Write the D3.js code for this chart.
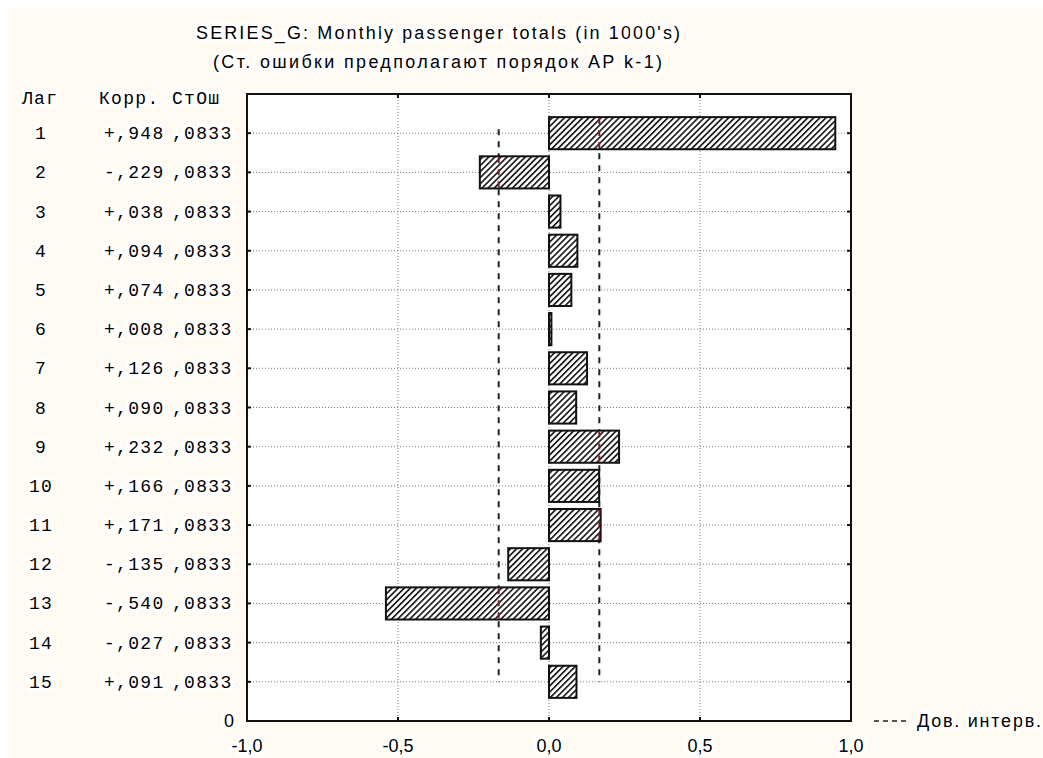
<!DOCTYPE html>
<html><head><meta charset="utf-8">
<script src="https://cdn.jsdelivr.net/npm/d3@7"></script>
<style>
html,body{margin:0;padding:0;background:#fff;}
svg{display:block;}
.halo{paint-order:stroke;stroke:#fff;stroke-width:7px;stroke-linejoin:round;}
</style></head>
<body>
<svg id="chart" width="1043" height="758"></svg>
<script>
// ---- data ----
const lags = [1,2,3,4,5,6,7,8,9,10,11,12,13,14,15];
const corr = [0.948,-0.229,0.038,0.094,0.074,0.008,0.126,0.090,0.232,0.166,0.171,-0.135,-0.540,-0.027,0.091];
const stErr = [0.0833,0.0833,0.0833,0.0833,0.0833,0.0833,0.0833,0.0833,0.0833,0.0833,0.0833,0.0833,0.0833,0.0833,0.0833];
const xTicks = [-1,-0.5,0,0.5,1];
const xGrid = [-0.5,0,0.5];
const title = "SERIES_G: Monthly passenger totals (in 1000's)";
const subtitle = "(Ст. ошибки предполагают порядок АР k-1)";
const headers = ["Лаг","Корр.","СтОш"];
const legendLabel = "Дов. интерв.";
const bottomLabel = "0";

const svg = d3.select("#chart");
const W = 1043, H = 758;
const plot = {left:247, right:851, top:94, bottom:721};

svg.append("rect").attr("x",0).attr("y",0).attr("width",W).attr("height",H).attr("fill","#fff");
svg.append("rect").attr("x",8).attr("y",8).attr("width",W-8).attr("height",H-8).attr("fill","#fffbf2");

const x = d3.scaleLinear().domain([-1,1]).range([plot.left,plot.right]);
const y = d3.scaleLinear().domain([0,16]).range([plot.top,plot.bottom]);
const step = y(1)-y(0);
const barH = step*0.82;

const defs = svg.append("defs");
const pat = defs.append("pattern").attr("id","hatch").attr("patternUnits","userSpaceOnUse")
  .attr("width",4.3).attr("height",4.3).attr("patternTransform","rotate(45)");
pat.append("rect").attr("width",4.3).attr("height",4.3).attr("fill","#fff");
pat.append("line").attr("x1",0.8).attr("y1",0).attr("x2",0.8).attr("y2",4.3).attr("stroke","#000").attr("stroke-width",1.5);

// plot background
svg.append("rect").attr("x",plot.left).attr("y",plot.top).attr("width",plot.right-plot.left)
  .attr("height",plot.bottom-plot.top).attr("fill","#fff");

// grid
const g = svg.append("g");
g.selectAll(".hg").data(lags).join("line")
  .attr("x1",plot.left).attr("x2",plot.right).attr("y1",d=>y(d)).attr("y2",d=>y(d))
  .attr("stroke","#7a7a7a").attr("stroke-width",1).attr("stroke-dasharray","1,2");
g.selectAll(".vg").data(xGrid).join("line")
  .attr("x1",d=>x(d)).attr("x2",d=>x(d)).attr("y1",plot.top).attr("y2",plot.bottom)
  .attr("stroke","#7a7a7a").attr("stroke-width",1).attr("stroke-dasharray","1,2");

// confidence limits
const conf = stErr.map(s=>2*s);
const limits = [-conf[0], conf[0]];
svg.selectAll(".cl").data(limits).join("line")
  .attr("x1",d=>x(d)).attr("x2",d=>x(d)).attr("y1",y(lags[0])-4).attr("y2",y(lags[lags.length-1]))
  .attr("stroke","#222").attr("stroke-width",2).attr("stroke-dasharray","6,6");

// bars
const data = lags.map((l,i)=>({lag:l, r:corr[i], se:stErr[i]}));
svg.selectAll(".bar").data(data).join("rect")
  .attr("x",d=>Math.min(x(0),x(d.r)))
  .attr("y",d=>y(d.lag)-barH/2)
  .attr("width",d=>Math.max(1,Math.abs(x(d.r)-x(0))))
  .attr("height",barH)
  .attr("fill","url(#hatch)").attr("stroke","#111").attr("stroke-width",2);

// confidence line segments through bars (drawn reddish)
const segs = [];
data.forEach(d=>{
  limits.forEach(L=>{
    const lo=Math.min(0,d.r), hi=Math.max(0,d.r);
    if (L>lo && L<hi) segs.push({L, lag:d.lag});
  });
});
svg.selectAll(".cs").data(segs).join("line")
  .attr("x1",d=>x(d.L)).attr("x2",d=>x(d.L))
  .attr("y1",d=>y(d.lag)-barH/2+1).attr("y2",d=>y(d.lag)+barH/2-1)
  .attr("stroke","#7a1f1f").attr("stroke-width",2).attr("stroke-dasharray","6,6");

// frame
svg.append("rect").attr("x",plot.left).attr("y",plot.top).attr("width",plot.right-plot.left)
  .attr("height",plot.bottom-plot.top).attr("fill","none").attr("stroke","#111").attr("stroke-width",2);

// ticks
svg.selectAll(".tt").data(xTicks).join("line")
  .attr("x1",d=>x(d)).attr("x2",d=>x(d)).attr("y1",plot.top).attr("y2",plot.top+4)
  .attr("stroke","#111").attr("stroke-width",2);
svg.selectAll(".bt").data(xTicks).join("line")
  .attr("x1",d=>x(d)).attr("x2",d=>x(d)).attr("y1",plot.bottom).attr("y2",plot.bottom-4)
  .attr("stroke","#111").attr("stroke-width",2);
svg.selectAll(".lt").data(lags).join("line")
  .attr("x1",plot.left).attr("x2",plot.left+4).attr("y1",d=>y(d)).attr("y2",d=>y(d))
  .attr("stroke","#111").attr("stroke-width",2);
svg.selectAll(".rt").data(lags).join("line")
  .attr("x1",plot.right).attr("x2",plot.right-4).attr("y1",d=>y(d)).attr("y2",d=>y(d))
  .attr("stroke","#111").attr("stroke-width",2);

// x axis labels
const loc = d3.formatLocale({decimal:",", thousands:" ", grouping:[3], currency:["",""], minus:"-"});
const fmt = loc.format(".1f");
const sans = "'Liberation Sans', Arial, sans-serif";
svg.selectAll(".xl").data(xTicks).join("text").attr("class","halo")
  .attr("x",d=>x(d)).attr("y",752).attr("text-anchor","middle")
  .attr("font-family",sans).attr("font-size",18).attr("fill","#000")
  .text(d=>fmt(d));

// titles
svg.append("text").attr("class","halo").attr("x",438).attr("y",39).attr("text-anchor","middle")
  .attr("font-family",sans).attr("font-size",18).attr("fill","#000")
  .attr("textLength",484).attr("lengthAdjust","spacing").text(title);
svg.append("text").attr("class","halo").attr("x",437.5).attr("y",68).attr("text-anchor","middle")
  .attr("font-family",sans).attr("font-size",18).attr("fill","#000")
  .attr("textLength",449).attr("lengthAdjust","spacing").text(subtitle);

// table
const mono = "'Liberation Mono', 'DejaVu Sans Mono', monospace";
const fmtR = v => (v<0?"-":"+") + "," + String(Math.round(Math.abs(v)*1000)).padStart(3,"0");
const fmtSE = v => "," + String(Math.round(v*10000)).padStart(4,"0");
const tbl = svg.append("g").attr("font-family",mono).attr("font-size",18).attr("fill","#000")
  .attr("font-weight","normal").attr("letter-spacing","1.3px");
const colX = [22, 99, 172];
tbl.selectAll(".hd").data(headers).join("text").attr("class","halo")
  .attr("x",(d,i)=>colX[i]).attr("y",y(0)+10).text(d=>d);
tbl.selectAll(".lg").data(data).join("text").attr("class","halo")
  .attr("x",d=> d.lag<10 ? 35 : 29).attr("y",d=>y(d.lag)+6).text(d=>d.lag);
tbl.selectAll(".rv").data(data).join("text").attr("class","halo")
  .attr("x",104).attr("y",d=>y(d.lag)+6).text(d=>fmtR(d.r));
tbl.selectAll(".sv").data(data).join("text").attr("class","halo")
  .attr("x",172).attr("y",d=>y(d.lag)+6).text(d=>fmtSE(d.se));

// bottom "0" label
svg.append("text").attr("class","halo").attr("x",234).attr("y",y(16)+6).attr("text-anchor","end")
  .attr("font-family",sans).attr("font-size",18).attr("fill","#000").text(bottomLabel);

// legend
svg.append("line").attr("x1",874).attr("x2",908).attr("y1",y(16)).attr("y2",y(16))
  .attr("stroke","#222").attr("stroke-width",1.5).attr("stroke-dasharray","5,4");
svg.append("text").attr("class","halo").attr("x",917).attr("y",y(16)+6)
  .attr("font-family",sans).attr("font-size",18).attr("fill","#000")
  .attr("textLength",124).attr("lengthAdjust","spacing").text(legendLabel);
</script>
</body></html>
